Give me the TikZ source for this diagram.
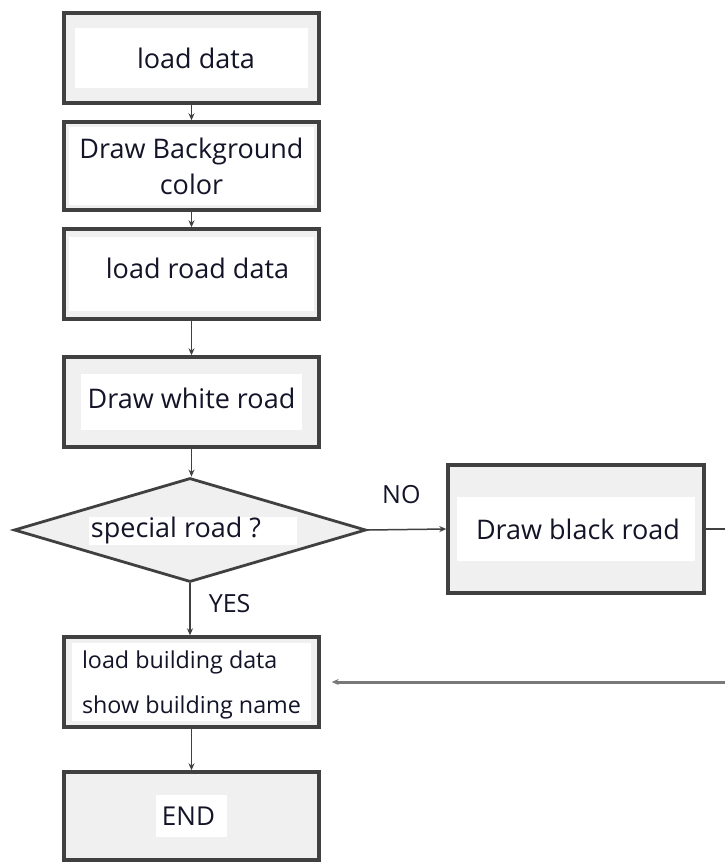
\documentclass[tikz,border=0pt]{standalone}
\usepackage{fontspec}
\setmainfont{Open Sans}
\usepackage{tikz}
\usetikzlibrary{calc,shapes.geometric,arrows.meta,positioning}
\definecolor{frame}{rgb}{0.25,0.25,0.25}
\definecolor{panelgray}{rgb}{0.94,0.94,0.94}
\definecolor{ink}{rgb}{0.08,0.08,0.16}
\tikzset{
	box/.style 2 args={
		draw=frame, line width=3.4pt, rectangle, fill=panelgray,
		minimum width=255pt, minimum height=90pt,
		inner sep=0pt, text=ink, align=center,
		font=\fontsize{27}{36}\selectfont,
		path picture = {
			\fill[white]
			([shift={(#1pt,-#2pt)}]path picture bounding box.north west) rectangle
			([shift={(-#1pt,#2pt)}]path picture bounding box.south east);
		}
	},
	decision/.style={
		draw=frame, line width=2.8pt, diamond, aspect=3.4, fill=panelgray,
		minimum width=352pt, minimum height=104pt, inner sep=0pt,
		text=ink, font=\fontsize{27}{30}\selectfont,
		path picture = {
			\fill[white]
			([shift={(-101pt,-15pt)}]path picture bounding box.center) rectangle
			([shift={(107pt,13pt)}]path picture bounding box.center);
		}
	},
	flow/.style={-{Stealth[length=7pt,width=6pt]}, draw=frame, line width=1.5pt},
	tag/.style={text=ink, font=\fontsize{25}{27}\selectfont, inner sep=1pt}
}
\begin{document}
\begin{tikzpicture}[x=1pt,y=-1pt]
	\useasboundingbox (0,0) rectangle (725,862);
	% main column
	\node[box={11}{15}] (load)  at (191.5,58)  {\hspace*{9pt}load data};
	\node[box={5}{5}, minimum height=88pt] (bg) at (191.5,166) {Draw Background\\color};
	\node[box={5}{8}, text depth=12pt] (road) at (191.5,274) {\hspace*{12pt}load road data};
	\node[box={17}{17}, text depth=8pt] (white) at (191.5,402) {Draw white road};
	\node[decision] (special) at (190,530) {\hspace*{-28pt}special road ?};
	\node[box={8}{6}, align=left, text depth=0pt, font=\fontsize{23.3}{45}\selectfont]
		(bldg) at (191.5,682) {load building data\\show building name};
	\node[box={92}{23}, minimum height=88pt, font=\fontsize{26}{28}\selectfont]
		(end) at (191.5,816) {\hspace*{-6pt}END};
	% side branch
	\node[box={9}{32}, minimum width=256pt, minimum height=128pt]
		(black) at (576,529) {\hspace*{4pt}Draw black road};
	\coordinate (turn) at (732,529);
	\draw[flow] (load) -- (bg);
	\draw[flow] (bg) -- (road);
	\draw[flow] (road) -- (white);
	\draw[flow] (white.south) -- (white.south |- special.north);
	\draw[flow] (special.east) -- (black.west)
		node[tag, pos=0.43, above=24pt] (no) {NO};
	\draw[flow] (special.south) -- (bldg.north -| special.south)
		node[tag, pos=0.38, right=17pt] (yes) {YES};
	\draw[flow] (bldg) -- (end);
	% loop back from the black road
	\draw[draw=frame, line width=1.5pt] (black.east) -- (turn);
	\draw[flow, line width=3pt, draw=frame!70] (turn) |- ([xshift=11pt]bldg.east);
\end{tikzpicture}
\end{document}
